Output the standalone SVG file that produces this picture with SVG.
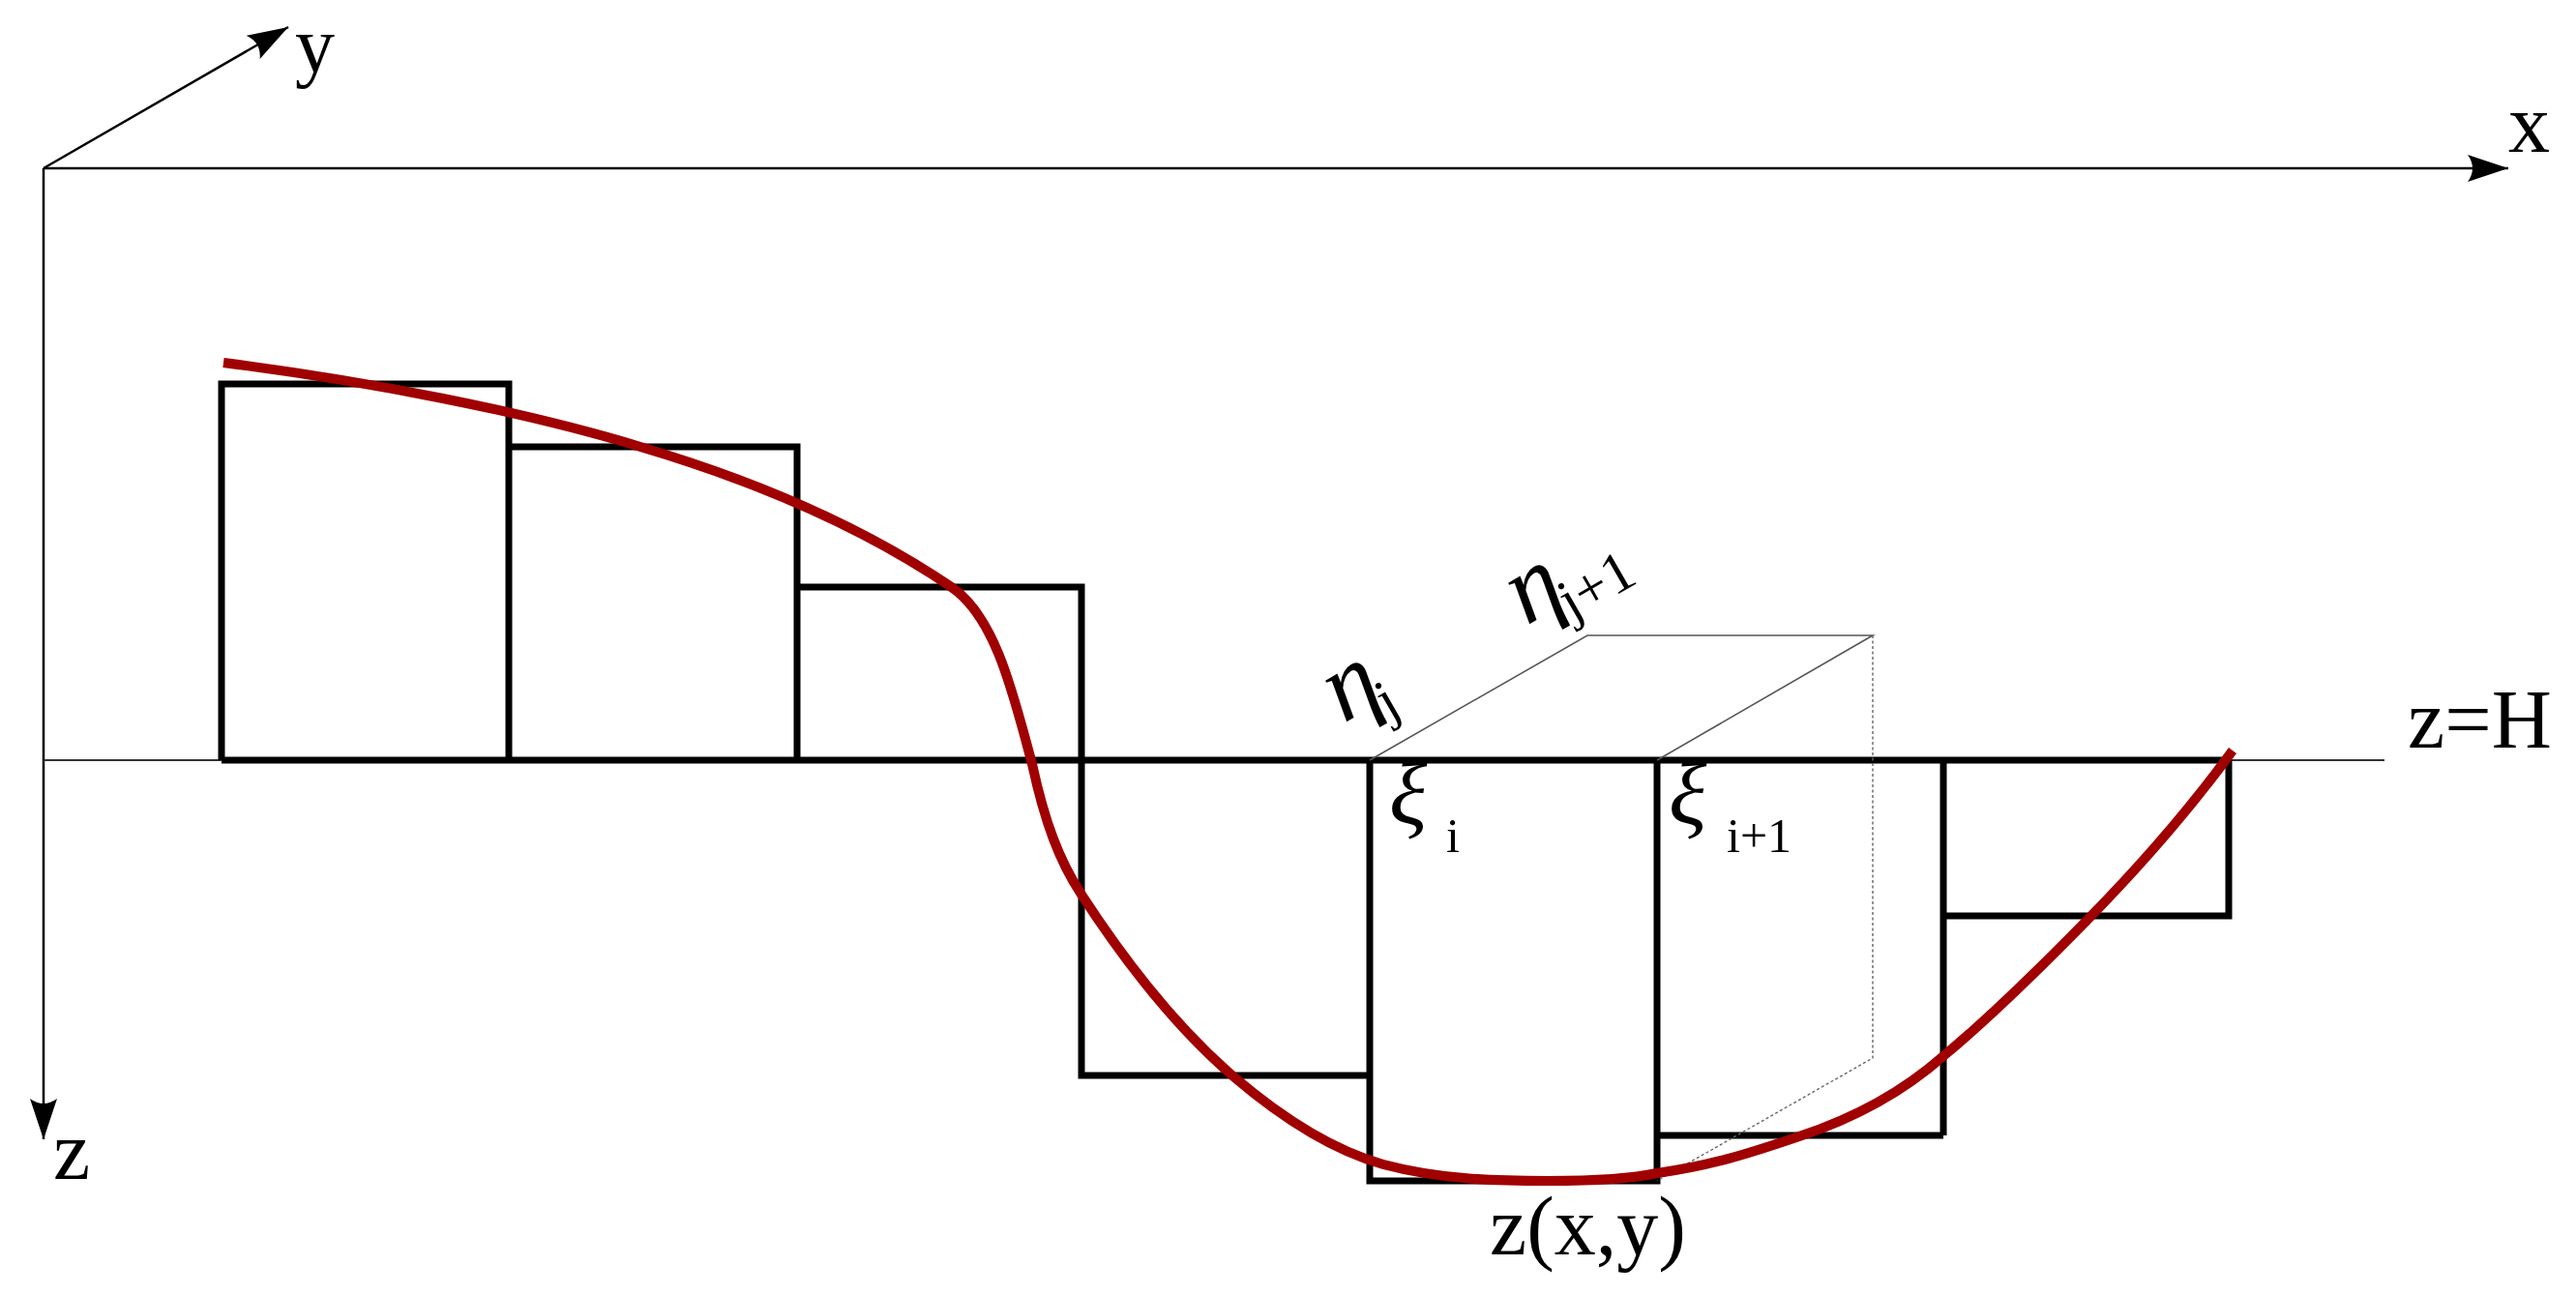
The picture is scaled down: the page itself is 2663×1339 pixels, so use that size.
<svg xmlns="http://www.w3.org/2000/svg" width="2663" height="1339" viewBox="0 0 2663 1339">
<style>
.t{font-family:"Liberation Serif","DejaVu Serif",serif;fill:#000}
.l{font-size:86px}
.s{font-size:50px}
.g{font-size:92px;font-style:italic}
.e{font-size:104px;font-style:italic}
.e2{font-size:60px}
.ax{stroke:#000;stroke-width:2.5;fill:none}
.box{stroke:#000;stroke-width:7;fill:none;stroke-linejoin:miter}
.th{stroke:#555;stroke-width:1.6;fill:none}
.dot{stroke:#666;stroke-width:1.4;fill:none;stroke-dasharray:3 2.5}
</style>
<defs>
<marker id="ah" markerUnits="userSpaceOnUse" markerWidth="44" markerHeight="30" refX="42" refY="14" orient="auto">
<path d="M0,0 L42,14 L0,28 Q10,14 0,0 Z" fill="#000"/>
</marker>
</defs>
<rect width="2663" height="1339" fill="#fff"/>
<g id="connectors">
<line class="ax" x1="45" y1="174" x2="2593" y2="174" marker-end="url(#ah)"/>
<line class="ax" x1="45" y1="174" x2="45" y2="1178" marker-end="url(#ah)"/>
<line class="ax" x1="45" y1="174" x2="298" y2="28" marker-end="url(#ah)"/>
<line x1="45" y1="786" x2="2465" y2="786" stroke="#333" stroke-width="2.2"/>
</g>
<g id="bars">
<path class="box" d="M229,786 V397 H526 V786"/>
<path class="box" d="M526,462 H824 V786"/>
<path class="box" d="M824,607 H1118 V786"/>
<path class="box" d="M229,786 H2304"/>
<path class="box" d="M1118,786 V1112 H1416"/>
<path class="box" d="M1416,786 V1221 H1713 V786"/>
<path class="box" d="M1713,1174 H2009"/>
<path class="box" d="M2009,786 V1174"/>
<path class="box" d="M2009,947 H2304 V786"/>
</g>
<g id="cell">
<path class="th" d="M1416,786 L1641,657 H1936 L1713,786"/>
<path class="dot" d="M1936,657 V1094 L1713,1221"/>
</g>
<path id="surface" d="M231,375 C380,394 540,425 662,462 C790,500 900,550 985,608 C1030,640 1048,720 1067,790 C1080,850 1095,890 1118,925 C1170,1005 1225,1070 1275,1113 C1330,1160 1380,1190 1430,1204 C1490,1220 1550,1221 1600,1221 C1650,1221 1690,1218 1713,1213 C1770,1205 1810,1192 1860,1175 C1930,1152 1975,1122 2009,1092 C2050,1058 2110,1000 2157,952 C2210,898 2265,835 2308,776" fill="none" stroke="#a00000" stroke-width="10"/>
<g id="labels">
<text class="t" style="font-size:82px" x="305" y="74">y</text>
<text class="t l" x="2593" y="157">x</text>
<text class="t l" x="55" y="1219">z</text>
<text class="t l" x="2489" y="773">z=H</text>
<text class="t l" x="1540" y="1297">z(x,y)</text>
<text class="t g" x="1436" y="852">ξ</text>
<text class="t s" x="1495" y="881">i</text>
<text class="t g" x="1725" y="852">ξ</text>
<text class="t s" x="1785" y="881">i+1</text>
<text class="t e" transform="translate(1389,748) rotate(-30)">η</text>
<text class="t e2" transform="translate(1436,745) rotate(-30)">j</text>
<text class="t e" transform="translate(1578,647) rotate(-30)">η</text>
<text class="t e2" transform="translate(1625,642) rotate(-30)">j+1</text>
</g>
</svg>
